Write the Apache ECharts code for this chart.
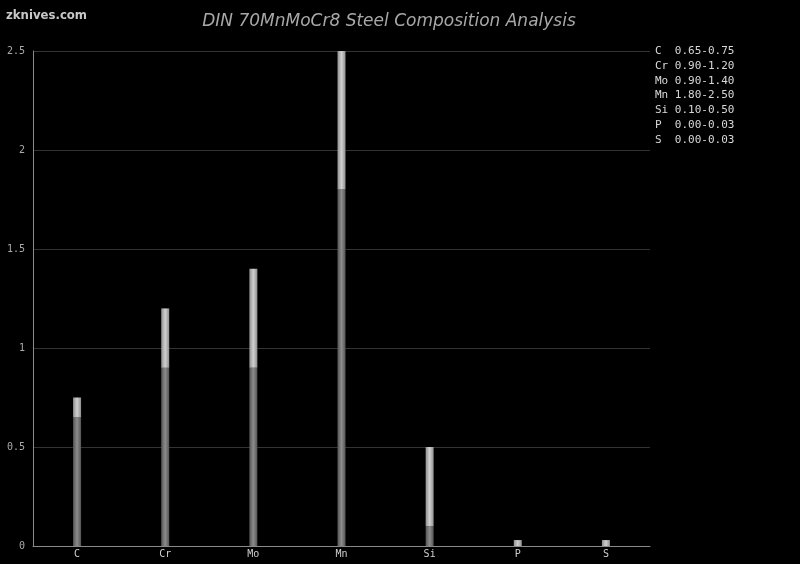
<!DOCTYPE html>
<html>
<head>
<meta charset="utf-8">
<script src="https://cdn.jsdelivr.net/npm/echarts@6/dist/echarts.min.js"></script>
<style>
  html, body { margin: 0; padding: 0; background: #000; }
  #chart { width: 800px; height: 564px; }
</style>
</head>
<body>
<div id="chart"></div>
<script>
const elements = ["C", "Cr", "Mo", "Mn", "Si", "P", "S"];
const minValues = [0.65, 0.90, 0.90, 1.80, 0.10, 0.00, 0.00];
const maxValues = [0.75, 1.20, 1.40, 2.50, 0.50, 0.03, 0.03];
const rangeValues = maxValues.map((v, i) => +(v - minValues[i]).toFixed(2));

const chart = echarts.init(document.getElementById("chart"));

function barGrad(edge, mid) {
  return new echarts.graphic.LinearGradient(0, 0, 1, 0, [
    { offset: 0, color: edge },
    { offset: 0.5, color: mid },
    { offset: 1, color: edge }
  ]);
}

// legend text on the right
const legendLines = elements.map((el, i) => ({
  type: "text",
  left: 655,
  top: 46 + i * 14.7,
  style: {
    text: el.padEnd(3, " ") + minValues[i].toFixed(2) + "-" + maxValues[i].toFixed(2),
    fill: "#d8d8d8",
    font: "11px 'DejaVu Sans Mono', monospace"
  }
}));

const option = {
  backgroundColor: "#000",
  animation: false,
  title: {
    text: "DIN 70MnMoCr8 Steel Composition Analysis",
    left: 384,
    textAlign: "center",
    top: 8,
    textStyle: {
      color: "#a8a8a8",
      fontStyle: "italic",
      fontWeight: "normal",
      fontSize: 17,
      fontFamily: "DejaVu Sans"
    }
  },
  graphic: [
    {
      type: "text",
      left: 6,
      top: 9,
      style: {
        text: "zknives.com",
        fill: "#c8c8c8",
        font: "bold 13px 'DejaVu Sans Condensed', 'DejaVu Sans', sans-serif"
      }
    }
  ].concat(legendLines),
  grid: { left: 33, right: 150, top: 51, bottom: 18 },
  xAxis: {
    type: "category",
    data: elements,
    axisLine: { lineStyle: { color: "#8a8a8a", width: 1 } },
    axisTick: { show: false },
    axisLabel: {
      color: "#cfcfcf",
      fontSize: 10,
      margin: 3,
      fontFamily: "DejaVu Sans Mono"
    },
    splitLine: { show: false }
  },
  yAxis: {
    type: "value",
    min: 0,
    max: 2.5,
    interval: 0.5,
    axisLine: { show: true, lineStyle: { color: "#8a8a8a", width: 1 } },
    axisTick: { show: false },
    axisLabel: {
      color: "#aaaaaa",
      fontSize: 10,
      margin: 8,
      fontFamily: "DejaVu Sans Mono"
    },
    splitLine: { lineStyle: { color: "#333333", width: 1 } }
  },
  series: [
    {
      name: "min",
      type: "bar",
      stack: "comp",
      barWidth: 8,
      data: minValues,
      itemStyle: { color: barGrad("#555555", "#8c8c8c") }
    },
    {
      name: "range",
      type: "bar",
      stack: "comp",
      barWidth: 8,
      data: rangeValues,
      itemStyle: { color: barGrad("#909090", "#d0d0d0") }
    }
  ]
};

chart.setOption(option);
</script>
</body>
</html>
